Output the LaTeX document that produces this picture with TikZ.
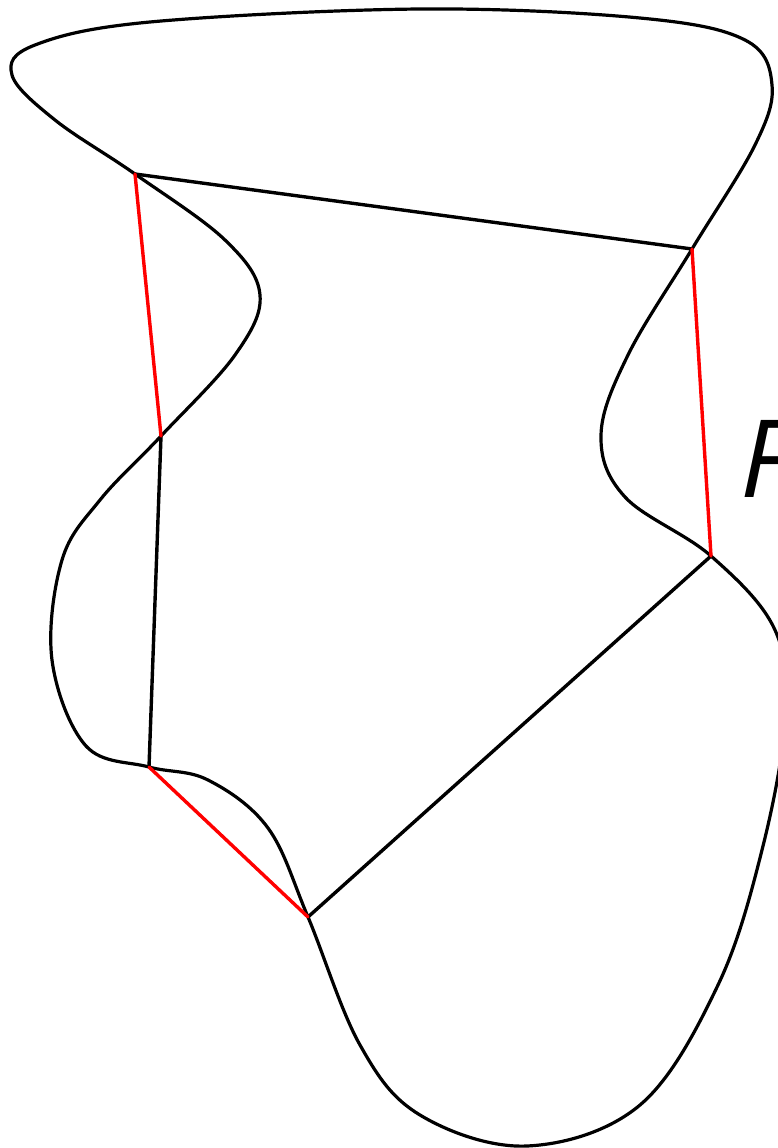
\documentclass[tikz,border=0pt]{standalone}
\usepackage{fontspec}
\newfontfamily\labelfont{Open Sans}
\begin{document}
\begin{tikzpicture}[x=1pt,y=-1pt,
    curva/.style={black,line width=3.2pt},
    lado/.style={black,line width=3.4pt,line cap=round},
    ladorojo/.style={red,line width=3.4pt,line cap=round}]
    \useasboundingbox (0,0) rectangle (778,1148);
    \clip (0,0) rectangle (778,1148);
    % Vértices del hexágono inscrito en la curva.
    \coordinate (A) at (135,174);
    \coordinate (B) at (692,249);
    \coordinate (C) at (711,556);
    \coordinate (D) at (308,917);
    \coordinate (E) at (149,767);
    \coordinate (F) at (161,436);
    \draw[curva] plot[smooth cycle, tension=0.6] coordinates {
        (A) (55,120) (12,75) (35,45) (150,22) (420,9) (640,18) (745,40)
        (772,85) (755,145) (B) (628,355) (601,435) (625,497) (C)
        (775,630) (785,720) (762,850) (718,985) (640,1105) (527,1146)
        (420,1115) (360,1045) (D) (268,828) (208,780) (E) (86,746)
        (52,660) (62,560) (100,500) (F) (235,355) (260,295) (225,240)};
    \draw[lado] (A) -- (B) (C) -- (D) (E) -- (F);
    \draw[ladorojo] (B) -- (C) (D) -- (E) (F) -- (A);
    \node[anchor=base west, inner sep=0pt, font=\labelfont\itshape\fontsize{108}{108}\selectfont]
        (etiq) at (740,497) {F};
\end{tikzpicture}
\end{document}
